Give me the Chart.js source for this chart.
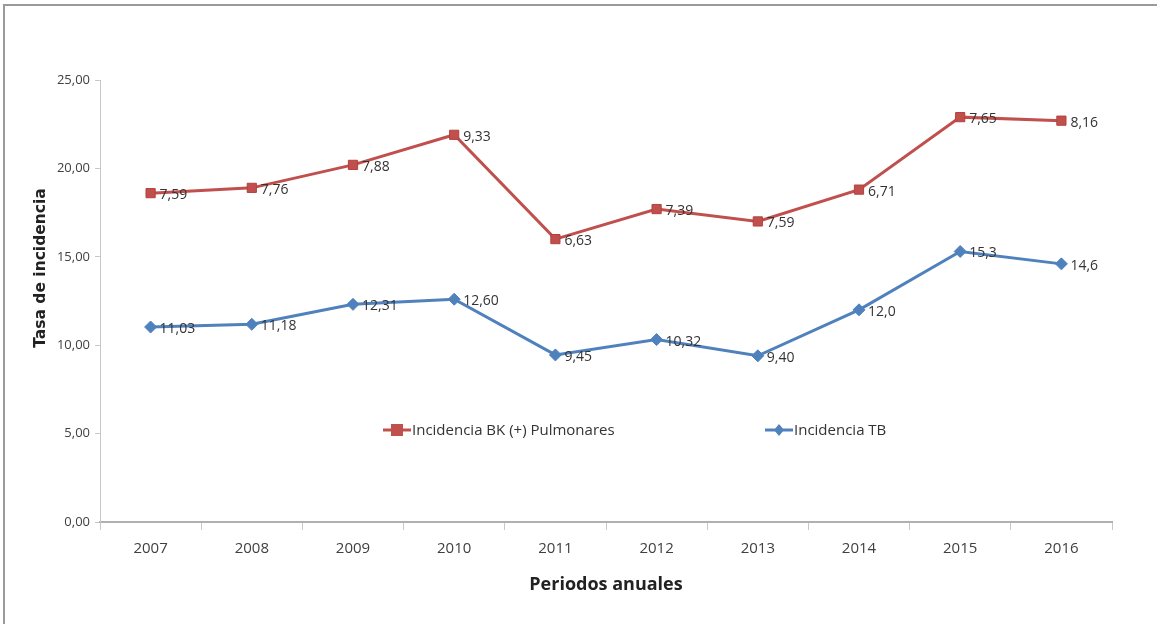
<!DOCTYPE html>
<html>
<head>
<meta charset="utf-8">
<script src="https://cdn.jsdelivr.net/npm/chart.js@4"></script>
<style>
html,body{margin:0;padding:0;background:#fff;}
#wrap{position:relative;width:1157px;height:624px;}
canvas{display:block;}
</style>
</head>
<body>
<div id="wrap"><canvas id="c" width="1157" height="624"></canvas></div>
<script>
const categories = ['2007','2008','2009','2010','2011','2012','2013','2014','2015','2016'];
const bkValues = [18.6, 18.9, 20.2, 21.9, 16.0, 17.7, 17.0, 18.8, 22.9, 22.7];
const bkLabels = ['7,59','7,76','7,88','9,33','6,63','7,39','7,59','6,71','7,65','8,16'];
const tbValues = [11.03, 11.18, 12.31, 12.60, 9.45, 10.32, 9.40, 12.0, 15.3, 14.6];
const tbLabels = ['11,03','11,18','12,31','12,60','9,45','10,32','9,40','12,0','15,3','14,6'];
const seriesNames = ['Incidencia BK (+) Pulmonares', 'Incidencia TB'];
const yAxisTitle = 'Tasa de incidencia';
const xAxisTitle = 'Periodos anuales';

const NARROW = "'Liberation Sans Narrow', 'Open Sans', sans-serif";
const RED = '#C0504D';
const BLUE = '#4F81BD';

const framePlugin = {
  id: 'frame',
  beforeDraw(chart) {
    const ctx = chart.ctx;
    ctx.save();
    ctx.strokeStyle = '#9a9a9a';
    ctx.lineWidth = 2;
    ctx.beginPath();
    ctx.moveTo(4, 624);
    ctx.lineTo(4, 5);
    ctx.lineTo(1157, 5);
    ctx.stroke();
    ctx.restore();
  },
  afterDraw(chart) {
    const ctx = chart.ctx;
    ctx.save();
    ctx.translate(41, 268);
    ctx.rotate(-Math.PI / 2);
    ctx.font = "bold 15.5px 'DejaVu Sans', 'Open Sans', sans-serif";
    ctx.fillStyle = '#222222';
    ctx.textAlign = 'center';
    ctx.textBaseline = 'middle';
    ctx.fillText(yAxisTitle, 0, 0);
    ctx.restore();
  }
};

const dataLabelPlugin = {
  id: 'dataLabels',
  afterDatasetsDraw(chart) {
    const ctx = chart.ctx;
    const labelSets = [bkLabels, tbLabels];
    ctx.save();
    ctx.font = "14px " + NARROW;
    ctx.fillStyle = '#333333';
    ctx.textAlign = 'left';
    ctx.textBaseline = 'middle';
    chart.data.datasets.forEach((ds, di) => {
      const meta = chart.getDatasetMeta(di);
      meta.data.forEach((pt, i) => {
        ctx.fillText(labelSets[di][i], pt.x + 9, pt.y + 2);
      });
    });
    ctx.restore();
  }
};

const legendPlugin = {
  id: 'customLegend',
  afterDraw(chart) {
    const ctx = chart.ctx;
    const items = [
      {x: 383, text: seriesNames[0], color: RED, style: 'rect'},
      {x: 765, text: seriesNames[1], color: BLUE, style: 'rectRot'}
    ];
    const y = 430;
    ctx.save();
    items.forEach(it => {
      ctx.strokeStyle = it.color;
      ctx.lineWidth = 3;
      ctx.beginPath();
      ctx.moveTo(it.x, y);
      ctx.lineTo(it.x + 28, y);
      ctx.stroke();
      ctx.fillStyle = it.color;
      if (it.style === 'rect') {
        ctx.fillRect(it.x + 8, y - 6, 12, 12);
      } else {
        ctx.beginPath();
        ctx.moveTo(it.x + 14, y - 6);
        ctx.lineTo(it.x + 19, y);
        ctx.lineTo(it.x + 14, y + 6);
        ctx.lineTo(it.x + 9, y);
        ctx.closePath();
        ctx.fill();
      }
      ctx.fillStyle = '#333333';
      ctx.font = "15px " + NARROW;
      ctx.textAlign = 'left';
      ctx.textBaseline = 'middle';
      ctx.fillText(it.text, it.x + 29, y + 1);
    });
    ctx.restore();
  }
};

new Chart(document.getElementById('c'), {
  type: 'line',
  data: {
    labels: categories,
    datasets: [
      {
        label: seriesNames[0],
        data: bkValues,
        borderColor: RED,
        backgroundColor: RED,
        borderWidth: 3,
        pointStyle: 'rect',
        pointRadius: 6.5,
        pointBorderWidth: 1,
        pointBorderColor: '#b5403d',
        pointBackgroundColor: RED,
        tension: 0
      },
      {
        label: seriesNames[1],
        data: tbValues,
        borderColor: BLUE,
        backgroundColor: BLUE,
        borderWidth: 3,
        pointStyle: 'rectRot',
        pointRadius: 6,
        pointBorderWidth: 1,
        pointBorderColor: BLUE,
        pointBackgroundColor: BLUE,
        tension: 0
      }
    ]
  },
  options: {
    responsive: false,
    animation: false,
    devicePixelRatio: 1,
    layout: { padding: { top: 80, right: 45, left: 0, bottom: 0 } },
    plugins: {
      legend: { display: false },
      tooltip: { enabled: false }
    },
    scales: {
      x: {
        offset: true,
        grid: {
          offset: true,
          drawOnChartArea: false,
          drawTicks: true,
          tickLength: 8,
          color: '#c8c8c8'
        },
        border: { color: '#b0b0b0', width: 2 },
        ticks: {
          color: '#404040',
          font: { family: NARROW, size: 15 },
          padding: 10,
          maxRotation: 0
        },
        title: {
          display: true,
          text: xAxisTitle,
          color: '#222222',
          font: { family: NARROW, size: 18, weight: 'bold' },
          padding: { top: 0, bottom: 28 }
        },
        afterFit(scale) { scale.height = 102; }
      },
      y: {
        min: 0,
        max: 25,
        ticks: {
          stepSize: 5,
          color: '#404040',
          font: { family: NARROW, size: 13 },
          padding: 5,
          callback: v => v.toFixed(2).replace('.', ',')
        },
        grid: {
          drawOnChartArea: false,
          drawTicks: true,
          tickLength: 5,
          color: '#c8c8c8'
        },
        border: { color: '#c8c8c8', width: 1 },
        title: { display: false, text: yAxisTitle },
        afterFit(scale) { scale.width = 100; }
      }
    }
  },
  plugins: [framePlugin, dataLabelPlugin, legendPlugin]
});
</script>
</body>
</html>
